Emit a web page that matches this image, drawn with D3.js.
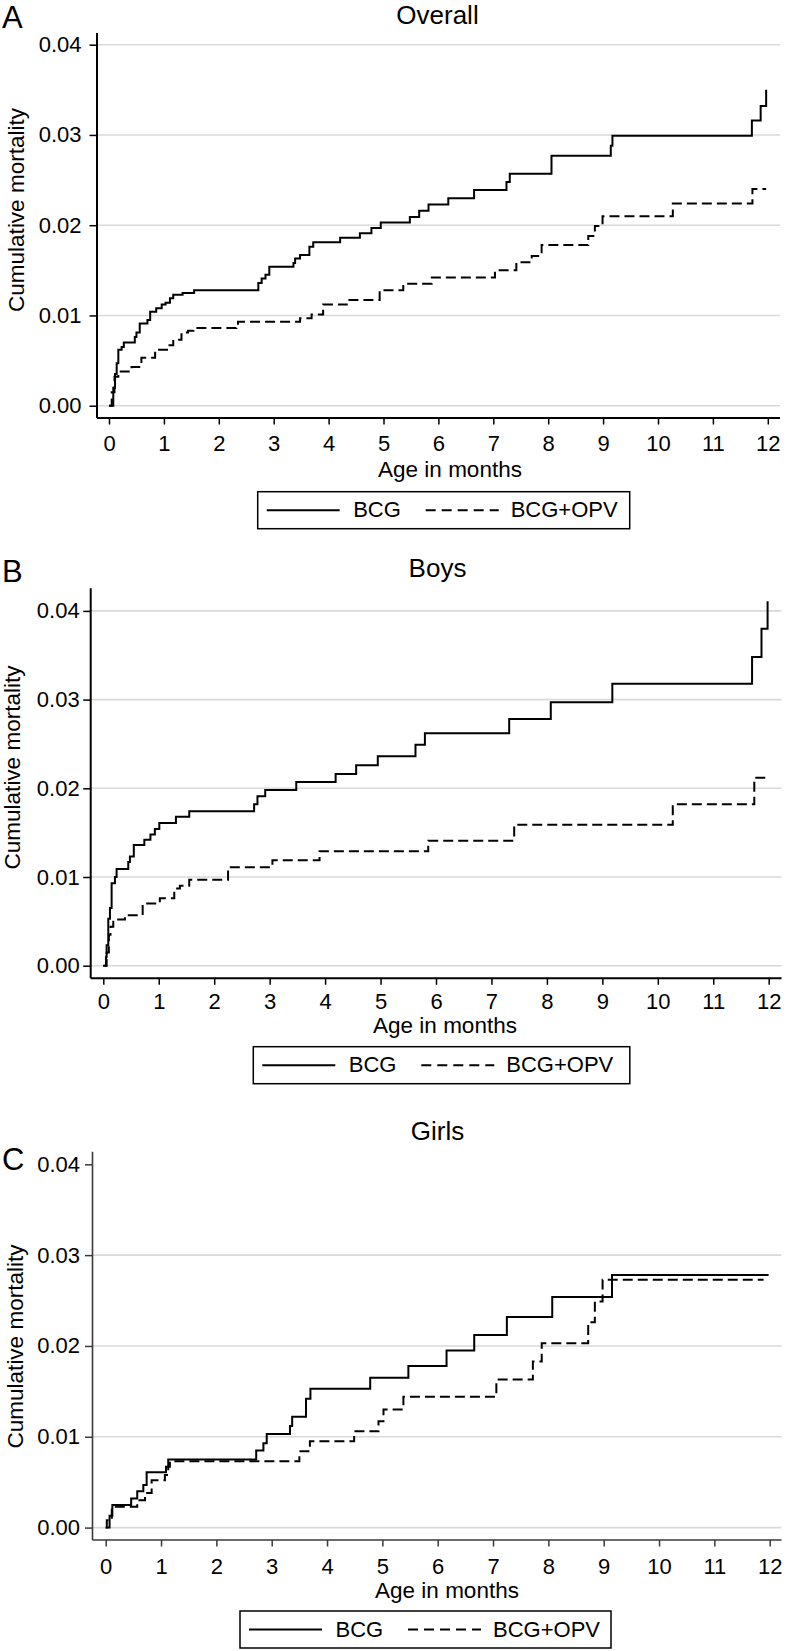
<!DOCTYPE html>
<html>
<head>
<meta charset="utf-8">
<script src="https://cdn.jsdelivr.net/npm/d3@7"></script>
<style>
  html, body { margin: 0; padding: 0; background: #fff; }
  svg { display: block; font-family: "Liberation Sans", Arial, Helvetica, sans-serif; }
</style>
</head>
<body>
<svg id="chart" width="786" height="1651"></svg>
<script>
// ===== values =====
const months = d3.range(0, 13);              // x ticks 0..12
const yTicks = [0, 0.01, 0.02, 0.03, 0.04];
const seriesNames = ['BCG', 'BCG+OPV'];
const panelTitles = ['Overall', 'Boys', 'Girls'];
const panelLetters = ['A', 'B', 'C'];

// cumulative mortality steps: [age in months, value after the step]
const overallBCG = [[0,0],[0.078,0.0020],[0.11,0.0035],[0.14,0.0047],[0.17,0.0062],[0.23,0.0065],[0.27,0.0070],
  [0.47,0.0076],[0.50,0.0081],[0.56,0.0091],[0.70,0.0095],[0.75,0.0104],[0.86,0.0108],[0.96,0.0112],[1.03,0.0114],
  [1.11,0.0119],[1.17,0.0123],[1.34,0.0125],[1.55,0.0128],[2.72,0.0136],[2.78,0.0141],[2.85,0.0145],[2.92,0.0154],
  [3.36,0.0158],[3.39,0.0163],[3.48,0.0167],[3.65,0.0176],[3.72,0.0181],[4.21,0.0186],[4.57,0.0191],[4.78,0.0197],
  [4.95,0.0203],[5.48,0.0209],[5.65,0.0216],[5.82,0.0223],[6.18,0.0230],[6.65,0.0239],[7.24,0.0248],[7.30,0.0257],
  [8.06,0.0277],[9.14,0.0288],[9.17,0.0299],[11.71,0.0316],[11.87,0.0332],[11.97,0.0350]];
const overallOPV = [[0,0],[0.05,0.0015],[0.10,0.0032],[0.17,0.0038],[0.41,0.0043],[0.59,0.0053],[0.84,0.0062],
  [1.08,0.0067],[1.17,0.0073],[1.32,0.0081],[1.44,0.0083],[1.54,0.0086],[2.32,0.0089],[2.35,0.0093],[3.48,0.0097],
  [3.69,0.0101],[3.90,0.0112],[4.33,0.0117],[4.93,0.0128],[5.36,0.0135],[5.88,0.0142],[7.03,0.0150],[7.42,0.0159],
  [7.70,0.0166],[7.88,0.0178],[8.73,0.0188],[8.85,0.0199],[8.99,0.0210],[10.27,0.0224],[11.72,0.0240],[11.97,0.0240]];

const boysBCG = [[0,0],[0.05,0.0010],[0.06,0.0023],[0.09,0.0053],[0.12,0.0065],[0.15,0.0093],[0.21,0.0100],
  [0.24,0.0109],[0.45,0.0117],[0.48,0.0123],[0.55,0.0136],[0.74,0.0142],[0.85,0.0148],[0.93,0.0154],[1.01,0.0161],
  [1.31,0.0168],[1.55,0.0174],[2.72,0.0182],[2.78,0.0191],[2.92,0.0198],[3.48,0.0207],[4.19,0.0216],[4.56,0.0226],
  [4.95,0.0236],[5.63,0.0249],[5.80,0.0262],[7.32,0.0278],[8.07,0.0297],[9.18,0.0318],[11.70,0.0348],[11.87,0.0380],
  [11.98,0.0411]];
const boysOPV = [[0,0],[0.06,0.0015],[0.10,0.0035],[0.13,0.0044],[0.18,0.0052],[0.39,0.0057],[0.71,0.0070],
  [1.02,0.0076],[1.28,0.0087],[1.38,0.0090],[1.55,0.0097],[2.25,0.0111],[3.05,0.0119],[3.90,0.0129],[5.86,0.0141],
  [7.41,0.0159],[10.27,0.0182],[11.74,0.0212],[11.96,0.0212]];

const girlsBCG = [[0,0],[0.07,0.0013],[0.12,0.0025],[0.46,0.0032],[0.57,0.0040],[0.68,0.0047],[0.74,0.0061],
  [1.09,0.0067],[1.13,0.0075],[2.72,0.0085],[2.85,0.0093],[2.91,0.0103],[3.33,0.0112],[3.37,0.0122],[3.62,0.0142],
  [3.70,0.0153],[4.78,0.0165],[5.47,0.0178],[6.16,0.0195],[6.66,0.0212],[7.25,0.0232],[8.07,0.0254],[9.15,0.0278],
  [11.98,0.0278]];
const girlsOPV = [[0,0],[0.02,0.0008],[0.11,0.0023],[0.57,0.0030],[0.71,0.0038],[0.83,0.0052],[1.07,0.0058],
  [1.13,0.0067],[1.16,0.0073],[3.50,0.0084],[3.69,0.0095],[4.49,0.0106],[4.93,0.0117],[5.02,0.0130],[5.38,0.0144],
  [7.06,0.0163],[7.72,0.0183],[7.88,0.0203],[8.72,0.0226],[8.84,0.0249],[8.98,0.0273],[11.89,0.0273]];

const seriesByPanel = [[overallBCG, overallOPV], [boysBCG, boysOPV], [girlsBCG, girlsOPV]];

// ===== layout (pixel placement of each panel) =====
const layout = [
  { x0: 109,   x12: 767.8, y0: 405.7,  y4: 44.7,   axX: 97,   axTop: 33,     axY: 418,    right: 780,
    yPad: 8, xPad: 10.5, letterY: 28.2, titleY: 23.8, yTitleX: 24.3, yTitleY: 210,
    xTitleX: 450, xTitleY: 476.7, legX: 257.7, legY: 491.7, legW: 372, grid04: true, axW: 2, axC: '#000' },
  { x0: 103.3, x12: 768.7, y0: 965.7,  y4: 610.9,  axX: 90.7, axTop: 588.3,  axY: 978.3,  right: 781.5,
    yPad: 3.5, xPad: 8.2, letterY: 582,  titleY: 577,  yTitleX: 19.5, yTitleY: 767.5,
    xTitleX: 445, xTitleY: 1033, legX: 253.3, legY: 1046.7, legW: 376.5, grid04: true, axW: 2, axC: '#000' },
  { x0: 105.7, x12: 769.7, y0: 1527.6, y4: 1164.3, axX: 92.5, axTop: 1151.7, axY: 1540,   right: 781.5,
    yPad: 5, xPad: 11.5, letterY: 1170, titleY: 1140, yTitleX: 22.5, yTitleY: 1346.5,
    xTitleX: 447, xTitleY: 1598, legX: 240, legY: 1611, legW: 371, grid04: false, axW: 1.6, axC: '#3a3a3a' }
];

const svg = d3.select('#chart');
const FONT = 22;

layout.forEach((L, i) => {
  const g = svg.append('g').attr('class', 'panel');
  const x = d3.scaleLinear().domain([0, 12]).range([L.x0, L.x12]);
  const y = d3.scaleLinear().domain([0, 0.04]).range([L.y0, L.y4]);

  // gridlines
  g.selectAll('line.grid')
    .data(yTicks.filter(v => L.grid04 || v < 0.04))
    .enter().append('line')
    .attr('class', 'grid')
    .attr('x1', L.axX).attr('x2', L.right)
    .attr('y1', d => y(d)).attr('y2', d => y(d))
    .attr('stroke', '#d9d9d9').attr('stroke-width', 1.6);

  // y axis
  const ya = g.append('g')
    .attr('transform', `translate(${L.axX},0)`)
    .call(d3.axisLeft(y).tickValues(yTicks).tickFormat(d3.format('.2f'))
      .tickSize(7.5).tickSizeOuter(0).tickPadding(L.yPad));
  ya.select('.domain').remove();

  // x axis
  const xa = g.append('g')
    .attr('transform', `translate(0,${L.axY})`)
    .call(d3.axisBottom(x).tickValues(months).tickFormat(d3.format('d'))
      .tickSize(6.5).tickSizeOuter(0).tickPadding(L.xPad));
  xa.select('.domain').remove();

  [ya, xa].forEach(a => {
    a.attr('font-family', null).attr('font-size', null);
    a.selectAll('line').attr('stroke', L.axC).attr('stroke-width', 1.5);
    a.selectAll('text').attr('fill', '#000').style('font-size', FONT + 'px');
  });

  // axis lines
  g.append('line').attr('x1', L.axX).attr('x2', L.axX).attr('y1', L.axTop).attr('y2', L.axY)
    .attr('stroke', L.axC).attr('stroke-width', L.axW);
  g.append('line').attr('x1', L.axX).attr('x2', L.right).attr('y1', L.axY).attr('y2', L.axY)
    .attr('stroke', L.axC).attr('stroke-width', L.axW);

  // step curves
  const line = d3.line().x(d => x(d[0])).y(d => y(d[1])).curve(d3.curveStepAfter);
  const [bcg, opv] = seriesByPanel[i];
  g.append('path').datum(opv).attr('d', line)
    .attr('fill', 'none').attr('stroke', '#000').attr('stroke-width', 2)
    .attr('stroke-dasharray', '10,5');
  g.append('path').datum(bcg).attr('d', line)
    .attr('fill', 'none').attr('stroke', '#000').attr('stroke-width', 2);

  // labels
  g.append('text').attr('x', 2).attr('y', L.letterY)
    .style('font-size', '31px').text(panelLetters[i]);
  g.append('text').attr('x', 437.5).attr('y', L.titleY).attr('text-anchor', 'middle')
    .style('font-size', '26px').text(panelTitles[i]);
  g.append('text')
    .attr('transform', `translate(${L.yTitleX},${L.yTitleY}) rotate(-90)`)
    .attr('text-anchor', 'middle').style('font-size', '22.5px')
    .text('Cumulative mortality');
  g.append('text').attr('x', L.xTitleX).attr('y', L.xTitleY).attr('text-anchor', 'middle')
    .style('font-size', '22.5px').text('Age in months');

  // legend
  const lg = g.append('g').attr('transform', `translate(${L.legX},${L.legY})`);
  lg.append('rect').attr('width', L.legW).attr('height', 37)
    .attr('fill', '#fff').attr('stroke', '#000').attr('stroke-width', 1.5);
  lg.append('line').attr('x1', 9).attr('x2', 82).attr('y1', 18.5).attr('y2', 18.5)
    .attr('stroke', '#000').attr('stroke-width', 2);
  lg.append('text').attr('x', 95.5).attr('y', 25.5).style('font-size', FONT + 'px').text(seriesNames[0]);
  lg.append('line').attr('x1', 168).attr('x2', 241).attr('y1', 18.5).attr('y2', 18.5)
    .attr('stroke', '#000').attr('stroke-width', 2).attr('stroke-dasharray', '10,6');
  lg.append('text').attr('x', 253).attr('y', 25.5).style('font-size', FONT + 'px').text(seriesNames[1]);
});
</script>
</body>
</html>
